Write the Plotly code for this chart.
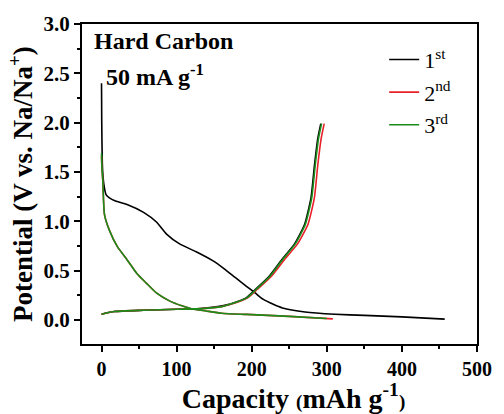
import plotly.graph_objects as go

# 1st cycle (black)
c1_dis_x = [0, 0.3, 1, 2, 4, 6, 10, 17, 34, 56, 73.5, 86.6, 104, 126, 148, 163, 178, 193, 205, 215, 228, 241, 271, 311, 350, 400, 457]
c1_dis_y = [2.40, 2.0, 1.6, 1.45, 1.33, 1.27, 1.24, 1.21, 1.17, 1.09, 0.99, 0.87, 0.77, 0.69, 0.60, 0.52, 0.43, 0.34, 0.27, 0.21, 0.16, 0.12, 0.08, 0.057, 0.045, 0.03, 0.007]
c1_chg_x = [0, 17, 56, 100, 128, 150, 170, 192, 205, 223, 240, 257, 270.5, 279, 283.6, 288, 292]
c1_chg_y = [0.057, 0.084, 0.097, 0.107, 0.112, 0.13, 0.157, 0.22, 0.31, 0.44, 0.61, 0.77, 0.97, 1.24, 1.57, 1.84, 1.99]

# 2nd cycle (red)
c2_dis_x = [0, 0.5, 1.7, 3.9, 10.4, 21.3, 34, 47, 60, 73.5, 91, 108, 121, 139, 160, 193, 250, 308]
c2_dis_y = [1.66, 1.55, 1.41, 1.07, 0.91, 0.74, 0.61, 0.47, 0.37, 0.27, 0.19, 0.14, 0.11, 0.09, 0.067, 0.055, 0.035, 0.01]
c2_chg_x = [0, 17, 56, 100, 134, 160, 172, 194, 207.5, 226, 243.5, 261, 275, 283.5, 288, 292.5, 296.5]
c2_chg_y = [0.057, 0.084, 0.097, 0.107, 0.114, 0.134, 0.157, 0.22, 0.31, 0.44, 0.61, 0.77, 0.97, 1.24, 1.57, 1.84, 1.99]

# 3rd cycle (green)
c3_dis_x = [0, 0.5, 1.7, 3.9, 10.4, 21.3, 34, 47, 60, 73.5, 91, 108, 121, 139, 160, 193, 250, 300]
c3_dis_y = [1.69, 1.55, 1.41, 1.07, 0.91, 0.74, 0.61, 0.47, 0.37, 0.27, 0.19, 0.14, 0.11, 0.09, 0.067, 0.055, 0.035, 0.013]
c3_chg_x = [0, 17, 56, 100, 134, 160, 171, 193, 206, 224, 241, 258, 271.5, 280, 284.6, 289, 293]
c3_chg_y = [0.057, 0.084, 0.097, 0.107, 0.114, 0.134, 0.157, 0.22, 0.31, 0.44, 0.61, 0.77, 0.97, 1.24, 1.57, 1.84, 1.99]

names = ["1<sup>st</sup>", "2<sup>nd</sup>", "3<sup>rd</sup>"]
colors = ["#000000", "#e8202a", "#1a8c1a"]

x_ticks = [0, 100, 200, 300, 400, 500]
y_ticks = [0, 0.5, 1.0, 1.5, 2.0, 2.5, 3.0]

FONT = "Liberation Serif"

fig = go.Figure()
cycles = [(c1_dis_x, c1_dis_y, c1_chg_x, c1_chg_y),
          (c2_dis_x, c2_dis_y, c2_chg_x, c2_chg_y),
          (c3_dis_x, c3_dis_y, c3_chg_x, c3_chg_y)]
for i, ((dx, dy, cx, cy), n, c) in enumerate(zip(cycles, names, colors)):
    fig.add_trace(go.Scatter(x=dx + [None] + cx, y=dy + [None] + cy, mode="lines",
                             name=n, legendgroup=f"g{i}",
                             line=dict(color=c, width=1.6, shape="spline", smoothing=0.5)))

fig.update_layout(
    width=504, height=414,
    margin=dict(l=82, r=19, t=21, b=69),
    plot_bgcolor="white", paper_bgcolor="white",
    font=dict(family=FONT, color="black"),
    showlegend=True,
    legend=dict(x=0.765, y=0.954, xanchor="left", yanchor="top", bgcolor="rgba(0,0,0,0)",
                font=dict(size=22, family=FONT), tracegroupgap=1, itemwidth=30),
    xaxis=dict(range=[-26, 500], tickmode="array", tickvals=x_ticks,
               ticktext=[f"<b>{v}</b>" for v in x_ticks],
               ticks="outside", ticklen=6, tickwidth=2, tickcolor="black",
               minor=dict(tickvals=[50, 150, 250, 350, 450], ticks="outside", ticklen=3, tickwidth=2, tickcolor="black"),
               showline=True, linecolor="black", linewidth=2, mirror=True, showgrid=False, zeroline=False,
               tickfont=dict(size=20, family=FONT),
               title=dict(text="&nbsp;&nbsp;&nbsp;&nbsp;<b>Capacity <span style='font-size:19px'>(</span>mAh g<sup>-1</sup><span style='font-size:19px'>)</span></b>",
                          font=dict(size=28, family=FONT), standoff=2)),
    yaxis=dict(range=[-0.245, 3.0], tickmode="array", tickvals=y_ticks,
               ticktext=[f"<b>{v:.1f}</b>" for v in y_ticks],
               ticks="outside", ticklen=6, tickwidth=2, tickcolor="black",
               minor=dict(tickvals=[0.25, 0.75, 1.25, 1.75, 2.25, 2.75], ticks="outside", ticklen=3, tickwidth=2, tickcolor="black"),
               showline=True, linecolor="black", linewidth=2, mirror=True, showgrid=False, zeroline=False,
               tickfont=dict(size=21, family=FONT),
               title=dict(text="<b>Potential (V vs. Na/Na<sup>+</sup>)</b>", font=dict(size=27, family=FONT), standoff=3)),
    annotations=[
        dict(x=0.025, y=0.995, xref="paper", yref="paper", xanchor="left", yanchor="top", showarrow=False,
             text="<b>Hard Carbon</b>", font=dict(size=24, family=FONT)),
        dict(x=0.055, y=0.895, xref="paper", yref="paper", xanchor="left", yanchor="top", showarrow=False,
             text="<b>50 mA g<sup>-1</sup></b>", font=dict(size=24, family=FONT)),
    ],
)

fig.write_html("out.html")
